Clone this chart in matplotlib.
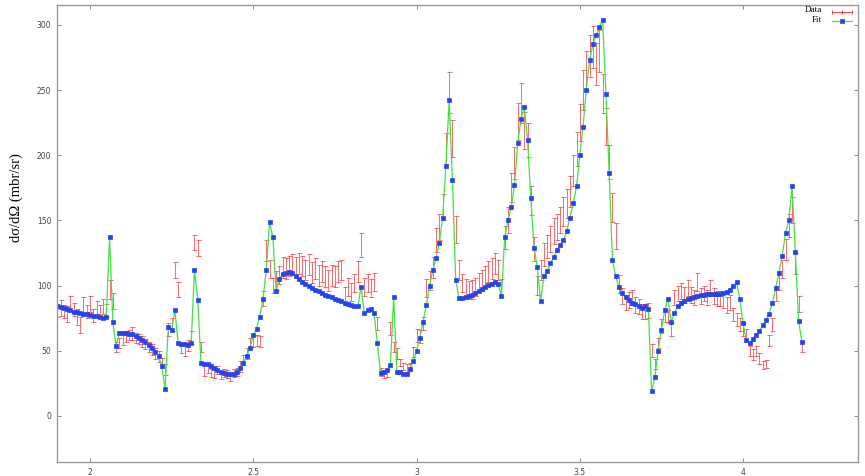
import numpy as np
import matplotlib
matplotlib.use("Agg")
import matplotlib.pyplot as plt
from matplotlib.lines import Line2D

# sample grid (0.01 spacing)
energy = np.round(np.arange(1.90, 4.185, 0.01), 2)

fit = [
    84, 83.5, 83, 82, 81, 80, 79.5, 79, 78.5, 78,
    77.5, 77, 76.5, 76, 75.5, 76, 137, 72, 54, 63.5,
    63.8, 63.5, 63, 62.5, 61.5, 60, 58.5, 56.5, 54.5, 52.5,
    49, 46, 38, 21, 68.5, 66, 81, 56, 55.5, 55,
    54.5, 56, 112, 89, 40.5, 40, 39.5, 38, 37, 35,
    34, 33, 32.5, 32, 32.5, 34, 37, 41, 46, 52,
    62, 67, 76, 90, 112, 149, 137, 96, 105, 109,
    110, 110.5, 109.5, 107.5, 105, 103, 101.5, 100, 98.5, 97,
    95.5, 94, 93, 92, 91, 90, 89, 88, 87, 86,
    85, 84.5, 84, 99, 79, 81, 82, 79, 56, 33,
    34, 35, 39, 91, 34, 33.5, 32.5, 32, 36, 42,
    50, 60, 72, 85, 100, 112, 121, 133, 152, 192,
    242, 181, 104, 90.5, 90.5, 91, 92, 93, 94.5, 96,
    97.5, 99, 100.5, 101.5, 103, 101, 92, 137, 150, 160,
    177, 209, 228, 237, 212, 167, 129, 114, 88, 107,
    111, 117, 122, 127, 131, 135, 142, 152, 163, 176,
    200, 222, 250, 273, 285, 292, 298, 304, 247, 186,
    120, 107, 99, 94, 91, 89, 87, 86, 84, 83,
    84, 82, 19, 30, 50, 66, 81, 90, 72, 79,
    84, 86.5, 88, 89.5, 90.3, 91.5, 92, 92.8, 93, 93.3,
    93.3, 93.3, 93.5, 93.6, 94, 95.3, 97, 99.7, 102.5, 90,
    71, 58, 56, 59, 62, 65, 69.5, 73.5, 78.5, 87,
    98, 110, 123, 140, 150, 176, 126, 73, 57,
]

data = [
    81, 83, 80, 78, 86, 82, 76, 70, 84, 80,
    86, 77, 82, 80, 84, 81, 97, 88, 53, 56,
    58.5, 61, 62, 63.5, 60, 59, 57, 55, 53, 51,
    48, 45.5, 40.5, 35.5, 66, 70, 112, 97, 52, 50,
    54, 60, 133, 129, 53, 35, 37, 33, 32, 35,
    31, 33, 32, 30, 33, 34, 38, 43, 48, 56,
    57, 58, 57, 90, 127, 113, 100, 104, 108, 114,
    113, 115, 116, 114, 117, 115, 112, 116, 110, 113,
    108, 111, 107, 104, 108, 107, 111, 112, 92, 99,
    95, 102, 111, 131, 99, 102, 98, 103, 71, 34,
    32, 33, 67, 53, 48, 41, 38, 37, 38, 49,
    62, 61, 71, 98, 104, 114, 135, 145, 160, 205,
    248, 213, 143, 112, 102, 98, 96.6, 97, 99, 103,
    104, 107, 111, 113, 117, 112, 98, 137, 150, 175,
    194, 226, 240, 219, 212, 165, 128, 100, 112, 124,
    130, 136, 142, 145, 150, 157, 163, 172, 188, 205,
    225, 250, 265, 276, 283, 270, 280, 247, 222, 195,
    160, 138, 101, 92, 87, 89, 91, 85, 84, 80,
    80, 81, 50, 40, 56, 69, 77, 76, 66, 91,
    94, 96, 93, 98, 93, 91, 103, 92, 94, 91,
    98, 92, 90, 90, 89, 85, 87, 78, 74, 70,
    66, 62, 50, 47, 50, 44, 39, 40, 58, 70,
    94, 104, 113, 128, 146, 158, 117, 86, 53,
]

data_err = [
    5, 6, 5, 6, 6, 5, 6, 6, 7, 5,
    6, 5, 6, 5, 6, 5, 7, 6, 4, 4,
    4, 4, 4, 5, 4, 4, 4, 4, 4, 4,
    4, 4, 4, 4, 5, 5, 6, 6, 4, 4,
    4, 5, 6, 6, 4, 4, 4, 3, 3, 3,
    3, 3, 3, 3, 3, 3, 4, 4, 4, 4,
    4, 4, 4, 6, 8, 7, 6, 7, 7, 8,
    8, 8, 8, 8, 8, 8, 8, 8, 8, 8,
    8, 8, 8, 8, 8, 8, 8, 8, 7, 7,
    7, 7, 8, 9, 7, 7, 7, 7, 5, 3,
    3, 3, 5, 4, 4, 3, 3, 3, 3, 4,
    5, 5, 5, 7, 7, 8, 9, 10, 10, 12,
    16, 14, 10, 8, 7, 7, 7, 7, 7, 7,
    8, 8, 8, 8, 8, 8, 7, 9, 10, 11,
    12, 14, 15, 14, 13, 11, 9, 7, 8, 9,
    9, 10, 10, 10, 10, 11, 11, 12, 12, 13,
    14, 15, 15, 16, 16, 16, 16, 15, 14, 13,
    11, 10, 7, 6, 6, 6, 6, 6, 6, 6,
    6, 6, 5, 4, 4, 5, 5, 5, 5, 6,
    6, 6, 6, 6, 6, 6, 7, 6, 6, 6,
    6, 6, 6, 6, 6, 6, 6, 5, 5, 5,
    5, 5, 4, 4, 4, 4, 3, 3, 4, 5,
    6, 7, 7, 8, 9, 10, 8, 6, 4,
]

x_ticks = [2, 2.5, 3, 3.5, 4]
x_labels = ["2", "2.5", "3", "3.5", "4"]
y_ticks = [0, 50, 100, 150, 200, 250, 300]

red = "#ff3838"
green = "#44e044"
blue = "#2244f0"

fig = plt.figure(figsize=(8.65, 4.76), dpi=100)
ax = fig.add_axes([57 / 865, 14 / 476, 801 / 865, 457 / 476])

ax.errorbar(energy, data, yerr=data_err, fmt="none", ecolor=red,
            elinewidth=0.65, capsize=1.8, capthick=0.65, alpha=0.8)
ax.plot(energy, fit, "-", color=green, lw=0.9, marker="s", ms=2.8,
        mfc=blue, mec=blue, mew=0.5)

ax.set_xlim(1.899, 4.352)
ax.set_ylim(-35.3, 315.2)
ax.set_xticks(x_ticks)
ax.set_xticklabels(x_labels)
ax.set_yticks(y_ticks)
ax.tick_params(direction="in", length=3, width=0.6, colors="#777777",
               labelcolor="#444444", labelsize=5.5, top=True, right=True, pad=4)
for s in ax.spines.values():
    s.set_color("#999999")
    s.set_linewidth(1.0)

ax.set_ylabel("d\u03c3/d\u03a9 (mbr/sr)", family="Liberation Serif", fontsize=10.5)
ax.yaxis.set_label_coords(-0.043, 0.578)

# gnuplot-like key in the top right corner
serif = dict(family="Liberation Serif", fontsize=6.6, ha="right", va="center")
fig.text(822 / 865, 1 - 10.5 / 476, "Data", **serif)
fig.text(822 / 865, 1 - 20 / 476, "Fit", **serif)
fig.add_artist(Line2D([832 / 865, 842 / 865, 852 / 865], [1 - 12 / 476] * 3,
                      transform=fig.transFigure, color=red, lw=0.7,
                      marker="|", ms=3, mew=0.7))
fig.add_artist(Line2D([832 / 865, 852 / 865], [1 - 21 / 476] * 2,
                      transform=fig.transFigure, color=green, lw=0.9))
fig.add_artist(Line2D([842 / 865], [1 - 21 / 476], transform=fig.transFigure,
                      ls="none", marker="s", ms=2.8, mfc=blue, mec=blue, mew=0.5))

fig.savefig("out.png", dpi=100)
